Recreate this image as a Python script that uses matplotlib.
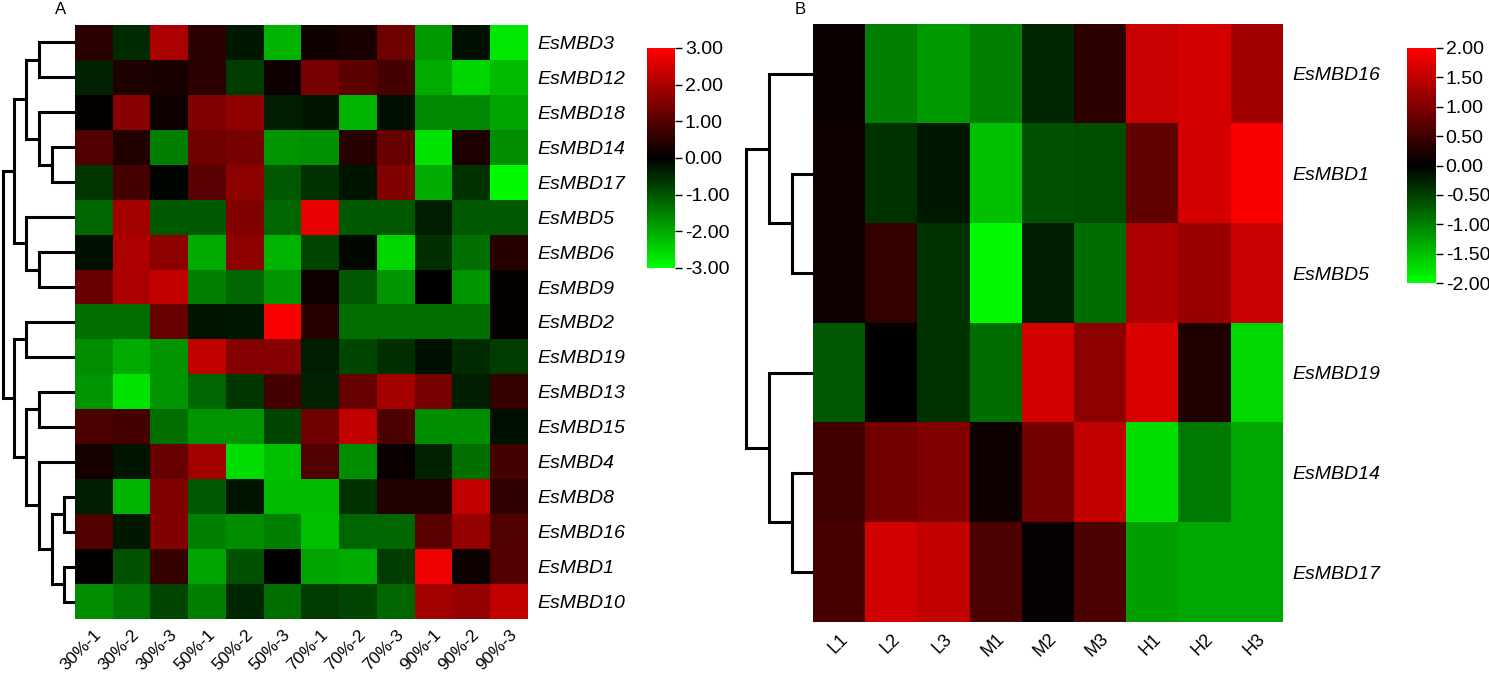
import matplotlib as mpl
mpl.use("Agg")
import matplotlib.pyplot as plt
import matplotlib.transforms as mtransforms
import numpy as np
from matplotlib.colors import LinearSegmentedColormap

mpl.rcParams.update({
    "font.family": "sans-serif",
    "font.sans-serif": ["Liberation Sans", "Arial", "DejaVu Sans"],
    "font.size": 13,
})

# ---- data ----
genes_a = ["EsMBD3", "EsMBD12", "EsMBD18", "EsMBD14", "EsMBD17", "EsMBD5",
           "EsMBD6", "EsMBD9", "EsMBD2", "EsMBD19", "EsMBD13", "EsMBD15",
           "EsMBD4", "EsMBD8", "EsMBD16", "EsMBD1", "EsMBD10"]
samples_a = ["30%-1", "30%-2", "30%-3", "50%-1", "50%-2", "50%-3",
             "70%-1", "70%-2", "70%-3", "90%-1", "90%-2", "90%-3"]
expr_a = np.array([
    [0.5, -0.5, 2.0, 0.5, -0.3, -2.1, 0.2, 0.3, 1.3, -1.8, -0.2, -2.7],
    [-0.4, 0.35, 0.3, 0.5, -0.7, 0.15, 1.4, 1.1, 0.8, -2.0, -2.5, -2.2],
    [0.05, 1.6, 0.15, 1.5, 1.7, -0.35, -0.25, -2.1, -0.2, -1.6, -1.6, -1.9],
    [0.95, 0.4, -1.5, 1.3, 1.4, -1.75, -1.7, 0.45, 1.2, -2.65, 0.35, -1.65],
    [-0.65, 0.8, -0.05, 1.05, 1.65, -1.05, -0.6, -0.25, 1.5, -2.0, -0.6, -2.95],
    [-1.2, 1.9, -1.05, -1.05, 1.5, -1.2, 2.7, -1.05, -1.05, -0.35, -1.05, -1.05],
    [-0.2, 2.0, 1.65, -2.0, 1.65, -2.1, -0.8, -0.1, -2.5, -0.55, -1.3, 0.45],
    [1.2, 2.0, 2.25, -1.5, -1.2, -1.75, 0.2, -1.05, -1.75, 0.0, -1.75, 0.05],
    [-1.3, -1.3, 1.2, -0.25, -0.3, 2.95, 0.45, -1.3, -1.3, -1.3, -1.3, 0.05],
    [-1.65, -2.0, -1.75, 2.25, 1.55, 1.55, -0.35, -0.8, -0.55, -0.2, -0.5, -0.7],
    [-1.75, -2.65, -1.75, -1.2, -0.65, 0.8, -0.4, 1.2, 1.9, 1.4, -0.35, 0.6],
    [0.9, 0.8, -1.3, -1.75, -1.75, -0.8, 1.3, 2.25, 0.9, -1.65, -1.65, -0.2],
    [0.25, -0.25, 1.2, 1.9, -2.6, -2.25, 0.95, -1.65, 0.1, -0.4, -1.3, 0.8],
    [-0.35, -2.1, 1.5, -1.05, -0.25, -2.2, -2.2, -0.6, 0.4, 0.4, 2.25, 0.55],
    [0.95, -0.3, 1.5, -1.5, -1.65, -1.5, -2.25, -1.2, -1.2, 1.05, 1.75, 0.95],
    [0.05, -0.95, 0.65, -1.9, -0.95, 0.0, -1.9, -2.0, -0.7, 2.8, 0.15, 0.95],
    [-1.65, -1.4, -0.8, -1.5, -0.45, -1.3, -0.7, -0.8, -1.2, 1.9, 1.75, 2.25],
])
# merges: (left, right, height); leaves 0..n-1, clusters n+i
links_a = [(0, 1, 36), (3, 4, 23), (2, 18, 36), (17, 19, 49), (6, 7, 36),
           (5, 21, 49), (20, 22, 61), (8, 9, 49), (10, 11, 36), (13, 14, 11),
           (15, 16, 11), (26, 27, 23), (12, 28, 36), (25, 29, 49),
           (24, 30, 61), (23, 31, 72)]

genes_b = ["EsMBD16", "EsMBD1", "EsMBD5", "EsMBD19", "EsMBD14", "EsMBD17"]
samples_b = ["L1", "L2", "L3", "M1", "M2", "M3", "H1", "H2", "H3"]
expr_b = np.array([
    [0.08, -1.0, -1.2, -1.0, -0.3, 0.35, 1.55, 1.65, 1.25],
    [0.1, -0.4, -0.2, -1.5, -0.65, -0.6, 0.75, 1.65, 1.95],
    [0.1, 0.4, -0.4, -1.95, -0.25, -0.85, 1.35, 1.2, 1.55],
    [-0.7, 0.03, -0.4, -0.85, 1.65, 1.1, 1.7, 0.25, -1.7],
    [0.5, 0.9, 1.0, 0.1, 0.9, 1.5, -1.75, -0.95, -1.3],
    [0.55, 1.65, 1.5, 0.6, 0.05, 0.6, -1.25, -1.3, -1.3],
])
links_b = [(1, 2, 21), (0, 6, 44), (4, 5, 21), (3, 8, 44), (7, 9, 67)]

cmap = LinearSegmentedColormap.from_list("gbr", ["#00ff00", "#000000", "#ff0000"])

W, H = 1489, 673
fig = plt.figure(figsize=(W / 100, H / 100), dpi=100)


def ax_px(l, t, r, b):
    return fig.add_axes([l / W, 1 - b / H, (r - l) / W, (b - t) / H])


def draw_dendro(ax, links, n, width):
    pos = {i: float(i) for i in range(n)}
    hgt = {i: 0.0 for i in range(n)}
    for k, (a, b, h) in enumerate(links):
        ya, yb = pos[a], pos[b]
        ax.plot([hgt[a], h, h, hgt[b]], [ya, ya, yb, yb], color="black",
                lw=2.2, solid_capstyle="butt", solid_joinstyle="miter")
        pos[n + k] = (ya + yb) / 2
        hgt[n + k] = h
    ax.set_xlim(width, 0)
    ax.set_ylim(n - 0.5, -0.5)
    ax.axis("off")


def draw_heat(ax, data, rows, cols, vmax, xfs, shift):
    im = ax.imshow(data, cmap=cmap, vmin=-vmax, vmax=vmax, aspect="auto",
                   interpolation="nearest")
    ax.set_xticks(range(len(cols)))
    ax.set_xticklabels(cols, rotation=45, ha="right", rotation_mode="anchor",
                       fontsize=xfs)
    offset = mtransforms.ScaledTranslation(shift / 100, 0, fig.dpi_scale_trans)
    for lab in ax.get_xticklabels():
        lab.set_transform(lab.get_transform() + offset)
    ax.set_yticks(range(len(rows)))
    ax.set_yticklabels(rows, style="italic", fontsize=14)
    ax.yaxis.tick_right()
    ax.tick_params(axis="y", length=0, pad=7)
    ax.tick_params(axis="x", length=0, pad=6)
    for s in ax.spines.values():
        s.set_visible(False)
    return im


def draw_cbar(im, cax, ticks):
    cb = fig.colorbar(im, cax=cax, ticks=ticks)
    cb.outline.set_visible(False)
    cb.ax.set_yticklabels([f"{t:.2f}" for t in ticks])
    cb.ax.tick_params(length=5, width=1, pad=2, labelsize=14)
    return cb


# --- panel A ---
hm_a = ax_px(75, 25, 528, 619)
im_a = draw_heat(hm_a, expr_a, genes_a, samples_a, 3, 12.5, 6)
dd_a = ax_px(0, 25, 75, 619)
draw_dendro(dd_a, links_a, len(genes_a), 75)
cb_a = ax_px(647, 48, 675, 268)
draw_cbar(im_a, cb_a, np.arange(3, -3.01, -1.0))
fig.text(55 / W, 1 - 10 / H, "A", fontsize=12, va="center")

# --- panel B ---
hm_b = ax_px(813, 24, 1283, 622)
im_b = draw_heat(hm_b, expr_b, genes_b, samples_b, 2, 13, 7)
dd_b = ax_px(740, 24, 813, 622)
draw_dendro(dd_b, links_b, len(genes_b), 73)
cb_b = ax_px(1407, 48, 1436, 283)
draw_cbar(im_b, cb_b, np.arange(2, -2.01, -0.5))
fig.text(795 / W, 1 - 10 / H, "B", fontsize=12, va="center")

fig.savefig("out.png", dpi=100)
plt.close(fig)
